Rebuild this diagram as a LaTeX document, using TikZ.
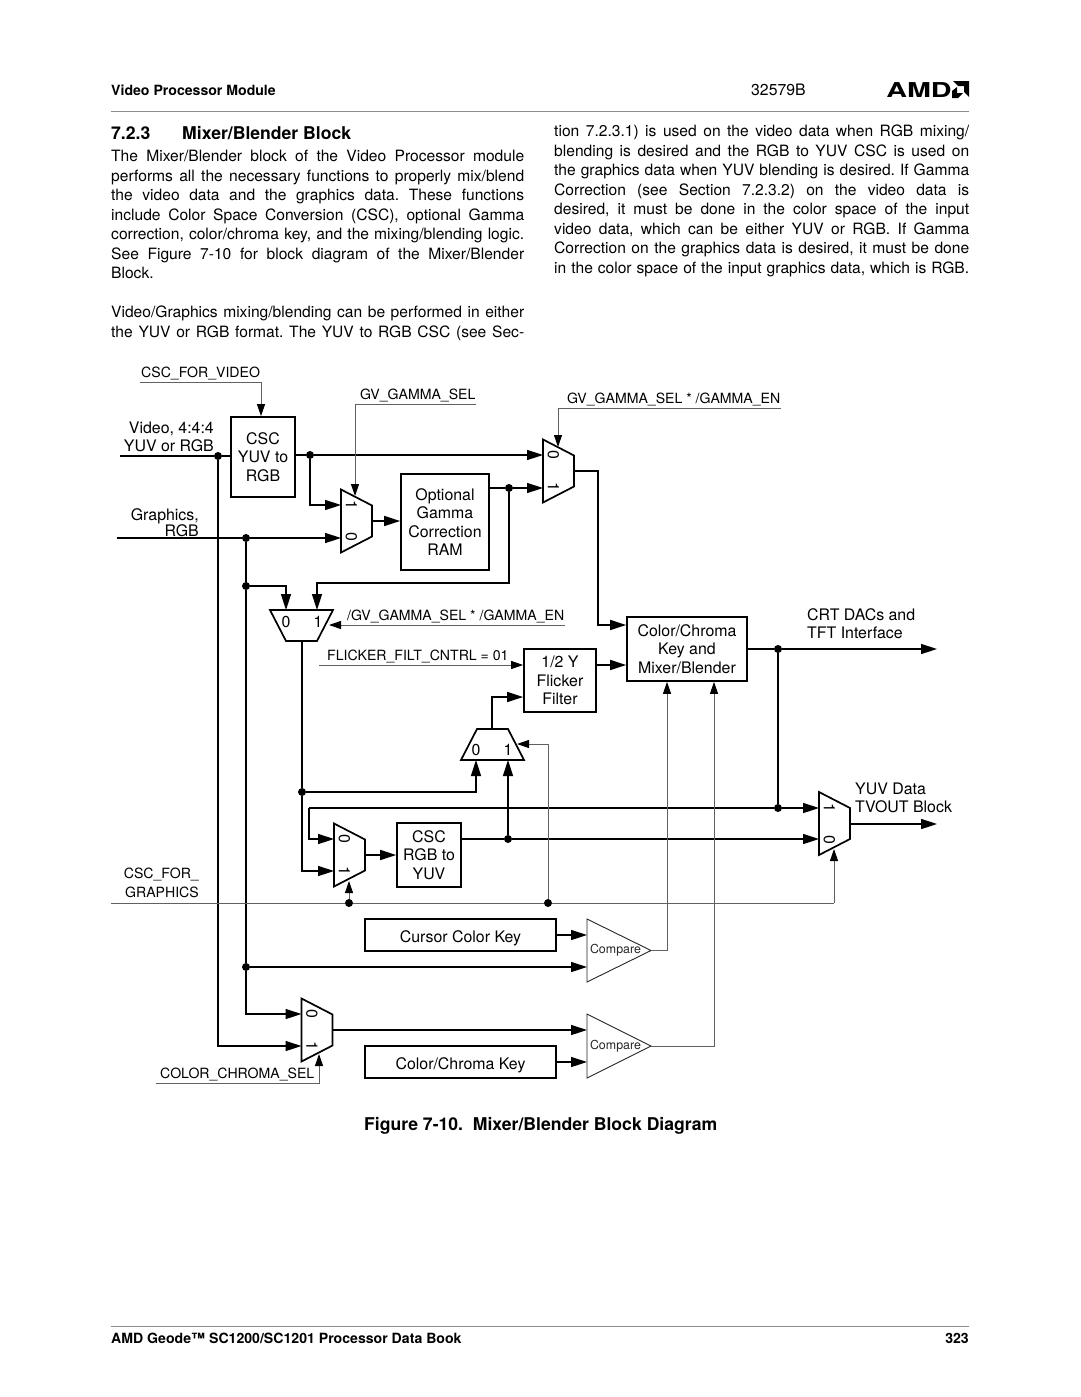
\documentclass[tikz,border=0pt]{standalone}
\usepackage{fontspec}
\setmainfont{TeX Gyre Heros}
\usetikzlibrary{arrows.meta,calc}
\newcommand\jl[1]{\hbox to 413pt{\spaceskip=.278em plus 1em minus .12em\relax #1}}
\newcommand\jr[1]{\hbox to 415pt{\spaceskip=.278em plus 1em minus .12em\relax #1}}
\tikzset{
  wire/.style={line width=1.5pt,black,line join=miter},
  sig/.style={wire,-{Triangle[length=16pt,width=10pt]}},
  ctl/.style={line width=1pt,black!62},
  ctla/.style={ctl,-{Triangle[length=12pt,width=8pt,color=black]}},
  blk/.style={draw,line width=1.7pt,inner sep=0pt,align=center,font=\fontsize{15.9}{18.6}\selectfont},
  mx/.style={inner sep=0pt,outer sep=0pt},
  mxline/.style={line width=1.7pt,line join=miter},
  dot/.style={circle,fill=black,inner sep=0pt,minimum size=8pt},
  lab/.style={inner sep=0pt,align=left,font=\fontsize{15.9}{18}\selectfont},
  slab/.style={inner sep=0pt,font=\fontsize{14.1}{19}\selectfont},
  muxn/.style={inner sep=0pt,font=\fontsize{15.9}{16}\selectfont},
  body/.style={inner sep=0pt,anchor=north west,font=\fontsize{15.6}{19.5}\selectfont},
  tri/.style={draw,line width=0.9pt,black!85},
  cmp/.style={inner sep=0pt,font=\fontsize{12.4}{13}\selectfont,text=black!85},
}
% #1 name, #2 cx, #3 cy, #4 #5 labels : mux pointing right
\newcommand\muxr[5]{%
  \node[mx,minimum width=31pt,minimum height=63pt] (#1) at (#2,#3) {};
  \draw[mxline] (#1.north west) -- ([yshift=-16pt]#1.north east) -- ([yshift=16pt]#1.south east) -- (#1.south west) -- cycle;
  \node[muxn,rotate=-90] (#1a) at (#2-5,#3-16) {#4};
  \node[muxn,rotate=-90] (#1b) at (#2-5,#3+16) {#5};
}
\begin{document}
\frenchspacing
\begin{tikzpicture}[x=1pt,y=-1pt]
\useasboundingbox (0,0) rectangle (1080,1397);
\fill[white] (0,0) rectangle (1080,1397);

% page header
\node[inner sep=0,anchor=west,font=\fontsize{14.1}{15}\bfseries\selectfont] (hdr) at (111,90) {Video Processor Module};
\node[inner sep=0,anchor=west,font=\fontsize{15.8}{15}\selectfont] (num) at (751,90) {32579B};
\node[inner sep=0,anchor=west,xscale=1.4,font=\fontsize{20.5}{22}\bfseries\selectfont] (amd) at (886,90) {AMD};
\fill (953,81) -- (969,81) -- (969,97) -- (964,92) -- (964,86) -- (958,86) -- cycle;
\fill (952,91) -- (957,87) -- (957,93) -- (963,93) -- (958,98) -- (952,98) -- cycle;
\draw[line width=1pt,black!45] (111,111) -- (969,111);

% text
\node[inner sep=0,anchor=west,font=\fontsize{17.6}{20}\bfseries\selectfont] (sec) at (111,133) {7.2.3};
\node[inner sep=0,anchor=west,font=\fontsize{17.6}{20}\bfseries\selectfont] (sect) at (182,133) {Mixer/Blender Block};
\node[body,text width=413pt] (p1) at (111,150) {%
\jl{The Mixer/Blender block of the Video Processor module}
\jl{performs all the necessary functions to properly mix/blend}
\jl{the video data and the graphics data. These functions}
\jl{include Color Space Conversion (CSC), optional Gamma}
\jl{correction, color/chroma key, and the mixing/blending logic.}
\jl{See Figure 7-10 for block diagram of the Mixer/Blender}
\hbox{Block.}};
\node[body,text width=413pt] (p2) at (111,306) {%
\jl{Video/Graphics mixing/blending can be performed in either}
\jl{the YUV or RGB format. The YUV to RGB CSC (see Sec-}};
\node[body,text width=415pt] (p3) at (554,125) {%
\jr{tion 7.2.3.1) is used on the video data when RGB mixing/}
\jr{blending is desired and the RGB to YUV CSC is used on}
\jr{the graphics data when YUV blending is desired. If Gamma}
\jr{Correction (see Section 7.2.3.2) on the video data is}
\jr{desired, it must be done in the color space of the input}
\jr{video data, which can be either YUV or RGB. If Gamma}
\jr{Correction on the graphics data is desired, it must be done}
\jr{in the color space of the input graphics data, which is RGB.}};

% blocks
\node[blk,minimum width=64pt,minimum height=80pt] (cscv) at (263,457) {CSC\\YUV to\\RGB};
\node[blk,minimum width=88pt,minimum height=96pt] (gam) at (445,522) {Optional\\Gamma\\Correction\\RAM};
\node[blk,minimum width=120pt,minimum height=64pt] (mix) at (687,649) {Color/Chroma\\Key and\\Mixer/Blender};
\node[blk,minimum width=72pt,minimum height=63pt] (flk) at (560,680.5) {1/2 Y\\Flicker\\Filter};
\node[blk,minimum width=64pt,minimum height=64pt] (cscg) at (429,855) {CSC\\RGB to\\YUV};
\node[blk,minimum width=191pt,minimum height=32pt,text height=14pt,text depth=0pt] (cur) at (460.5,935) {Cursor Color Key};
\node[blk,minimum width=191pt,minimum height=32pt,text height=14pt,text depth=0pt] (cck) at (460.5,1062) {Color/Chroma Key};

% muxes
\muxr{ma}{356.5}{521}{1}{0}
\muxr{mb}{558.5}{471}{0}{1}
\muxr{mc}{349.5}{855}{0}{1}
\muxr{md}{317}{1030}{0}{1}
\muxr{me}{834.5}{823.5}{1}{0}
\node[mx,minimum width=63pt,minimum height=31pt] (mf) at (301.5,625.5) {};
\draw[mxline] (mf.north west) -- (mf.north east) -- ([xshift=-16pt]mf.south east) -- ([xshift=16pt]mf.south west) -- cycle;
\node[muxn] (mfa) at (286,622) {0};
\node[muxn] (mfb) at (318,622) {1};
\node[mx,minimum width=63pt,minimum height=31pt] (mg) at (492.5,744.5) {};
\draw[mxline] (mg.south west) -- (mg.south east) -- ([xshift=-16pt]mg.north east) -- ([xshift=16pt]mg.north west) -- cycle;
\node[muxn] (mga) at (476,750) {0};
\node[muxn] (mgb) at (508,750) {1};

% comparators
\coordinate (ca1) at (587,919); \coordinate (ca2) at (587,982); \coordinate (cat) at (651,950.5);
\coordinate (cb1) at (587,1014); \coordinate (cb2) at (587,1078); \coordinate (cbt) at (651,1046);
\draw[tri] (ca1) -- (cat) -- (ca2) -- cycle;
\draw[tri] (cb1) -- (cbt) -- (cb2) -- cycle;
\node[cmp] (cmpa) at (615.5,950.5) {Compare};
\node[cmp] (cmpb) at (615.5,1046) {Compare};

% labels
\node[lab,align=right,anchor=east] (lv) at (214,436.5) {Video, 4:4:4\\YUV or RGB};
\node[lab,align=right,anchor=east] (lg) at (199,522.5) {Graphics,\\[-1.7pt]RGB};
\node[lab,anchor=west] (lc) at (807,623.5) {CRT DACs and\\TFT Interface};
\node[lab,anchor=west] (ly) at (855,797.5) {YUV Data\\TVOUT Block};
\node[slab,anchor=west] (t1) at (141,373) {CSC\_FOR\_VIDEO};
\node[slab,anchor=west] (t2) at (360,395) {GV\_GAMMA\_SEL};
\node[slab,anchor=west] (t3) at (567,399) {GV\_GAMMA\_SEL * /GAMMA\_EN};
\node[slab,anchor=west] (t4) at (347,616) {/GV\_GAMMA\_SEL * /GAMMA\_EN};
\node[slab,anchor=west] (t5) at (327,656.5) {FLICKER\_FILT\_CNTRL = 01};
\node[slab,align=right,anchor=east] (t6) at (199,883) {CSC\_FOR\_\\GRAPHICS};
\node[slab,anchor=west] (t7) at (160,1074) {COLOR\_CHROMA\_SEL};

% junctions
\node[dot] (jv) at (218,456) {};
\node[dot] (jc) at (310,455) {};
\node[dot] (jg) at (246,538) {};
\node[dot] (jg2) at (246,586) {};
\node[dot] (jg3) at (246,967) {};
\node[dot] (jo) at (509,488) {};
\node[dot] (jm) at (302,792) {};
\node[dot] (jx) at (778,649) {};
\node[dot] (jy) at (778,808) {};
\node[dot] (jr) at (508,839) {};
\node[dot] (js1) at (349,903) {};
\node[dot] (js2) at (548,903) {};

% free ends
\coordinate (vin) at (120,456);
\coordinate (gin) at (117,538);
\coordinate (crt) at (937,649);
\coordinate (tv) at (937,824);
\coordinate (lp) at (309,808);
\coordinate (sv) at (140,382); \coordinate (svc) at (261,382);
\coordinate (sg) at (476,404); \coordinate (sgc) at (355,404); \coordinate (sgt) at (355,496);
\coordinate (se) at (781,408); \coordinate (sec2) at (558,408); \coordinate (set) at (558,447);
\coordinate (sn) at (565,625); \coordinate (snt) at (329,625);
\coordinate (fl) at (319,665);
\coordinate (gl) at (111,903); \coordinate (glc) at (834,903); \coordinate (glt) at (834,849);
\coordinate (gu) at (548,744); \coordinate (gut) at (517,744);
\coordinate (gct) at (349,881);
\coordinate (cs) at (156,1083); \coordinate (csc) at (319,1083); \coordinate (cst) at (319,1054);

% thick wires
\draw[wire] (vin) -- (jv) -- (cscv.west |- jv);
\draw[sig] (cscv.east |- jc) -- (jc) -- (mb.west |- jc);
\draw[sig] (jc) |- (ma.west |- 0,505);
\draw[wire] (gin) -- (jg);
\draw[sig] (jg) -- (ma.west |- jg);
\draw[sig] (ma.east) -- (gam.west |- ma.east);
\draw[sig] (gam.east |- jo) -- (jo) -- (mb.west |- jo);
\draw[sig] (jo) |- (317,583) -- (317,610);
\draw[wire] (jg) -- (jg2) -- (jg3);
\draw[sig] (jg2) -| (286,610);
\draw[sig] (jv) |- (md.west |- 0,1046);
\draw[sig] (jg3) |- (md.west |- 0,1014);
\draw[sig] (jg3) -- (ca1 |- jg3);
\draw[sig] (md.east) -- (ca1 |- md.east);
\draw[sig] (mb.east) -| (598,625) -- (mix.west |- 0,625);
\draw[sig] (flk.east |- 0,665) -- (mix.west |- 0,665);
\draw[sig] (mix.east |- jx) -- (jx) -- (crt);
\draw[wire] (jx) -- (jy);
\draw[sig] (lp) -- (jy) -- (me.west |- jy);
\draw[sig] (lp) |- (mc.west |- 0,839);
\draw[wire] (302,641) -- (jm);
\draw[sig] (jm) |- (mc.west |- 0,871);
\draw[sig] (jm) -| (476,760);
\draw[sig] (mc.east) -- (cscg.west |- mc.east);
\draw[sig] (cscg.east |- jr) -- (jr) -- (me.west |- jr);
\draw[sig] (jr) -- (508,760);
\draw[sig] (492,729) |- (flk.west |- 0,697);
\draw[sig] (me.east |- tv) -- (tv);
\draw[sig] (cur.east) -- (ca1 |- cur.east);
\draw[sig] (cck.east) -- (ca1 |- cck.east);

% control wires
\draw[ctla] (sv) -- (svc) -- (cscv.north -| svc);
\draw[ctla] (sg) -- (sgc) -- (sgt);
\draw[ctla] (se) -- (sec2) -- (set);
\draw[ctla] (sn) -- (snt);
\draw[ctla] (fl) -- (flk.west |- fl);
\draw[ctl] (gl) -- (js1) -- (js2) -- (glc);
\draw[ctla] (glc) -- (glt);
\draw[ctla] (js2) |- (gut);
\draw[ctla] (js1) -- (gct);
\draw[ctla] (cs) -- (csc) -- (cst);
\draw[ctla] (cat) -| (mix.south -| 667,0);
\draw[ctla] (cbt) -| (mix.south -| 714,0);

% caption and footer
\node[inner sep=0,anchor=west,font=\fontsize{17.6}{20}\bfseries\selectfont] (cap) at (364,1126) {Figure 7-10.\ \ Mixer/Blender Block Diagram};
\draw[line width=1pt,black!45] (111,1326) -- (969,1326);
\node[inner sep=0,anchor=west,font=\fontsize{14.1}{15}\bfseries\selectfont] (ftr) at (111,1338) {AMD Geode™ SC1200/SC1201 Processor Data Book};
\node[inner sep=0,anchor=east,font=\fontsize{14.1}{15}\bfseries\selectfont] (pg) at (969,1338) {323};
\end{tikzpicture}
\end{document}
